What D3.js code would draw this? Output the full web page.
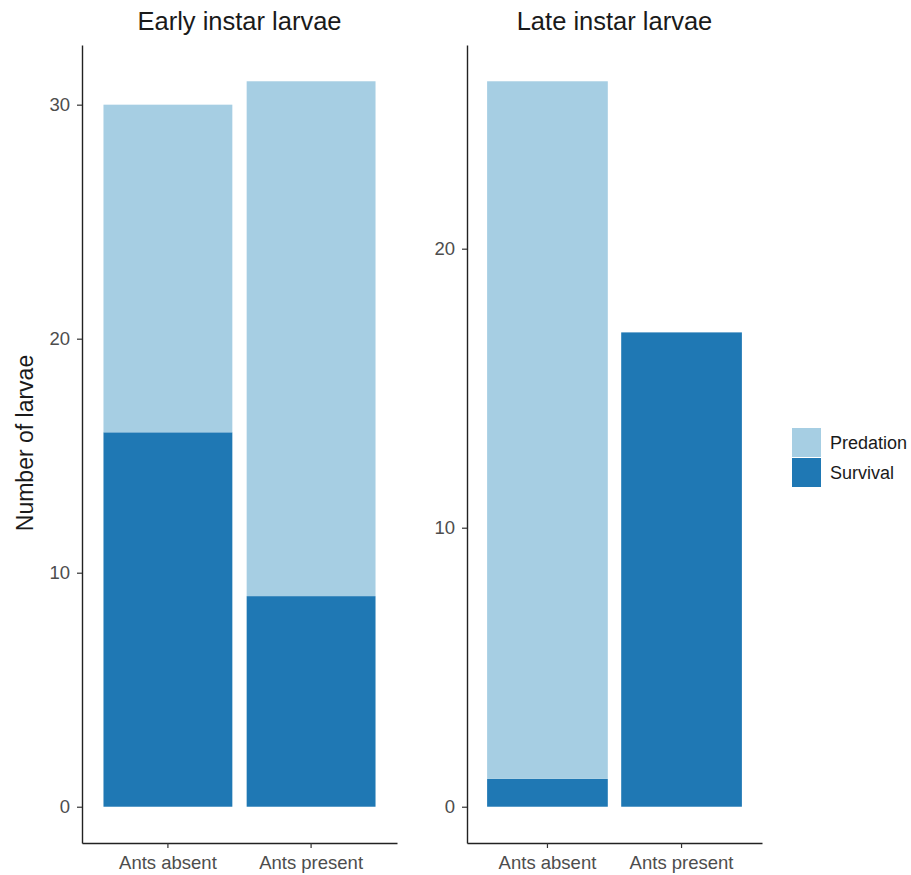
<!DOCTYPE html>
<html>
<head>
<meta charset="utf-8">
<script src="https://cdn.jsdelivr.net/npm/d3@7"></script>
<style>
  body { margin: 0; background: #fff; }
  svg text { font-family: "Liberation Sans", Arial, sans-serif; }
</style>
</head>
<body>
<svg width="911" height="875"></svg>
<script>
const treatments = ['Ants absent', 'Ants present'];
const outcomes = ['Predation', 'Survival'];
const stages = ['Early instar larvae', 'Late instar larvae'];
// counts per treatment, by stage
const earlySurvival = [16, 9];
const earlyPredation = [14, 22];
const lateSurvival = [1, 17];
const latePredation = [25, 0];
const earlyTicks = [0, 10, 20, 30];
const lateTicks = [0, 10, 20];

const colors = { Predation: '#a6cee3', Survival: '#1f78b4' };

const svg = d3.select('svg');

const panels = [
  { title: stages[0], survival: earlySurvival, predation: earlyPredation, ticks: earlyTicks, left: 82, right: 397 },
  { title: stages[1], survival: lateSurvival, predation: latePredation, ticks: lateTicks, left: 467, right: 762 }
];

const plotTop = 45, plotBottom = 843;

panels.forEach(p => {
  const rows = treatments.map((t, i) => ({ treatment: t, Survival: p.survival[i], Predation: p.predation[i] }));
  const stacked = d3.stack().keys(['Survival', 'Predation'])(rows);
  const maxTotal = d3.max(rows, d => d.Survival + d.Predation);
  const pad = maxTotal * 0.05;

  const x = d3.scaleBand().domain(treatments).range([p.left, p.right]).paddingInner(0.1).paddingOuter(0.15);
  // ggplot-like 5% expansion
  const y = d3.scaleLinear().domain([-pad, maxTotal + pad]).range([plotBottom, plotTop]);

  const g = svg.append('g');

  g.selectAll('g.layer').data(stacked)
    .enter().append('g')
      .attr('class', 'layer')
      .attr('fill', d => colors[d.key])
    .selectAll('rect').data(d => d)
    .enter().append('rect')
      .attr('x', d => x(d.data.treatment))
      .attr('width', x.bandwidth())
      .attr('y', d => y(d[1]))
      .attr('height', d => y(d[0]) - y(d[1]));

  const yAxis = g.append('g')
    .attr('transform', `translate(${p.left},0)`)
    .call(d3.axisLeft(y).tickValues(p.ticks).tickSize(5).tickPadding(7).tickSizeOuter(0));
  const xAxis = g.append('g')
    .attr('transform', `translate(0,${plotBottom})`)
    .call(d3.axisBottom(x).tickSize(5).tickPadding(8).tickSizeOuter(0));

  [yAxis, xAxis].forEach(a => {
    a.select('.domain').attr('stroke', '#222').attr('stroke-width', 1.4);
    a.selectAll('.tick line').attr('stroke', '#333').attr('stroke-width', 1.2);
    a.selectAll('.tick text').attr('fill', '#4d4d4d').style('font-size', '18.5px');
  });

  g.append('text')
    .attr('x', (p.left + p.right) / 2)
    .attr('y', 30)
    .attr('text-anchor', 'middle')
    .attr('fill', '#1a1a1a')
    .style('font-size', '25.5px')
    .text(p.title);
});

svg.append('text')
  .attr('transform', 'translate(33,443) rotate(-90)')
  .attr('text-anchor', 'middle')
  .attr('fill', '#1a1a1a')
  .style('font-size', '23px')
  .text('Number of larvae');

// legend
const legend = svg.append('g').attr('transform', 'translate(792,428)');
outcomes.forEach((o, i) => {
  legend.append('rect')
    .attr('x', 0).attr('y', i * 30)
    .attr('width', 29).attr('height', 29)
    .attr('fill', colors[o]);
  legend.append('text')
    .attr('x', 38).attr('y', i * 30 + 21)
    .attr('fill', '#1a1a1a')
    .style('font-size', '18px')
    .text(o);
});
</script>
</body>
</html>
